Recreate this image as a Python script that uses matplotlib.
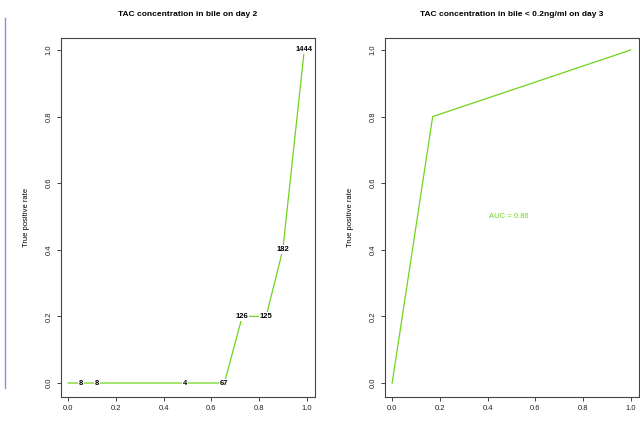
import numpy as np
import matplotlib
matplotlib.use('Agg')
import matplotlib.pyplot as plt
from matplotlib.lines import Line2D

plt.rcParams['font.family'] = ['Liberation Sans', 'DejaVu Sans']

################################################################################
# ROC curve, day 2 (left panel)
fpr_day2 = [0.0, 0.054, 0.12, 0.49, 0.655, 0.73, 0.83, 0.90, 0.99]
tpr_day2 = [0.0, 0.0, 0.0, 0.0, 0.0, 0.2, 0.2, 0.4, 1.0]
cut_day2 = ['', '8', '8', '4', '67', '126', '125', '182', '1444']

# ROC curve, day 3 (right panel)
fpr_day3 = [0.0, 0.17, 1.0]
tpr_day3 = [0.0, 0.8, 1.0]
auc_day3 = 'AUC = 0.86'

ticks = [0.0, 0.2, 0.4, 0.6, 0.8, 1.0]
tick_labels = ['0.0', '0.2', '0.4', '0.6', '0.8', '1.0']

green = '#70d41c'
W, H = 640, 421

def px_axes(fig, x0, y0, x1, y1):
    return fig.add_axes([x0 / W, 1 - y1 / H, (x1 - x0) / W, (y1 - y0) / H])

def style(ax, title):
    ax.set_xlim(-0.03, 1.035)
    ax.set_ylim(-0.042, 1.036)
    ax.set_xticks(ticks)
    ax.set_xticklabels(tick_labels, fontsize=5.5)
    ax.set_yticks(ticks)
    ax.set_yticklabels(tick_labels, fontsize=5.5, rotation=90, va='center')
    ax.tick_params(direction='out', length=3, width=0.6, pad=3, colors='#222222')
    for s in ax.spines.values():
        s.set_linewidth(0.8)
        s.set_color('#444444')
    ax.set_ylabel('True positive rate', fontsize=5.5, labelpad=11)
    ax.set_title(title, fontsize=6, fontweight='bold', pad=16)


fig = plt.figure(figsize=(6.4, 4.21), dpi=100)

# leftover border of the neighbouring panel
fig.add_artist(Line2D([5 / W, 5 / W], [1 - 18 / H, 1 - 388 / H],
                      color='#8c8ce0', lw=1.0))

################################################################################
ax1 = px_axes(fig, 61, 38, 315, 397)
ax1.plot(fpr_day2, tpr_day2, color=green, lw=0.9, zorder=2)
for x, y, c in zip(fpr_day2, tpr_day2, cut_day2):
    if c:
        ax1.text(x, y, c, fontsize=5.5, fontweight='bold', ha='center', va='center',
                 zorder=3, bbox=dict(facecolor='white', edgecolor='none', pad=0.6))
style(ax1, 'TAC concentration in bile on day 2')

################################################################################
ax2 = px_axes(fig, 385, 38, 639, 397)
ax2.plot(fpr_day3, tpr_day3, color=green, lw=0.9)
ax2.text(0.49, 0.5, auc_day3, color=green, fontsize=5.5, ha='center', va='center')
style(ax2, 'TAC concentration in bile < 0.2ng/ml on day 3')

fig.savefig('out.png', dpi=100)
